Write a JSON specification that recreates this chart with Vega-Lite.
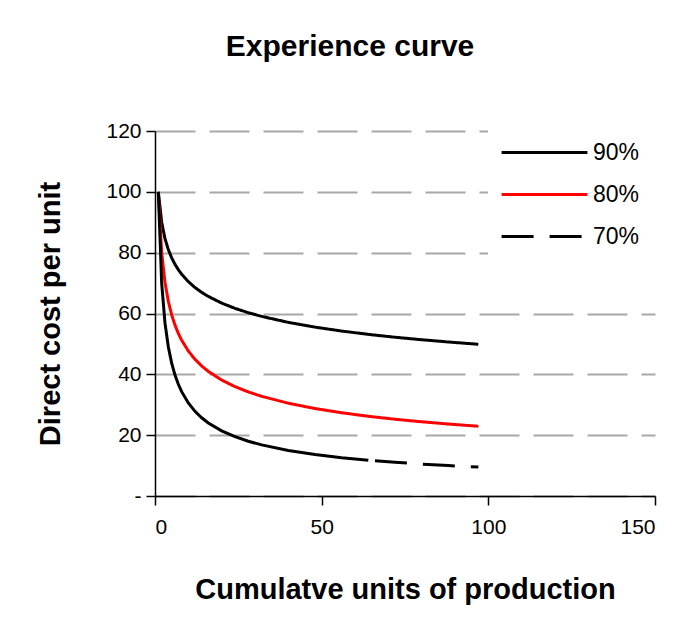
{
  "$schema": "https://vega.github.io/schema/vega-lite/v6.json",
  "width": 500,
  "height": 365,
  "autosize": {"type": "none"},
  "padding": {"left": 155, "top": 131, "right": 33, "bottom": 138},
  "background": "white",
  "title": {
    "text": "Experience curve",
    "font": "Liberation Sans",
    "fontSize": 30,
    "fontWeight": "bold",
    "color": "black",
    "anchor": "middle",
    "dx": -55,
    "offset": 34
  },
  "config": {
    "view": {"stroke": null},
    "font": "Liberation Sans",
    "axis": {
      "domainColor": "black",
      "domainWidth": 1.5,
      "tickColor": "black",
      "tickWidth": 1.5,
      "tickSize": 9,
      "labelFont": "Liberation Sans",
      "labelFontSize": 21,
      "labelColor": "black",
      "titleFont": "Liberation Sans",
      "titleFontSize": 29,
      "titleFontWeight": "bold",
      "titleColor": "black"
    }
  },
  "data": {
    "values": [
      {"n": 1, "series": "90%", "cost": 100},
      {"n": 2, "series": "90%", "cost": 90},
      {"n": 3, "series": "90%", "cost": 84.62},
      {"n": 4, "series": "90%", "cost": 81},
      {"n": 5, "series": "90%", "cost": 78.3},
      {"n": 6, "series": "90%", "cost": 76.16},
      {"n": 7, "series": "90%", "cost": 74.39},
      {"n": 8, "series": "90%", "cost": 72.9},
      {"n": 10, "series": "90%", "cost": 70.47},
      {"n": 12, "series": "90%", "cost": 68.54},
      {"n": 14, "series": "90%", "cost": 66.96},
      {"n": 16, "series": "90%", "cost": 65.61},
      {"n": 20, "series": "90%", "cost": 63.42},
      {"n": 24, "series": "90%", "cost": 61.69},
      {"n": 28, "series": "90%", "cost": 60.26},
      {"n": 32, "series": "90%", "cost": 59.05},
      {"n": 40, "series": "90%", "cost": 57.08},
      {"n": 48, "series": "90%", "cost": 55.52},
      {"n": 56, "series": "90%", "cost": 54.23},
      {"n": 64, "series": "90%", "cost": 53.14},
      {"n": 66, "series": "90%", "cost": 52.9},
      {"n": 72, "series": "90%", "cost": 52.2},
      {"n": 80, "series": "90%", "cost": 51.37},
      {"n": 88, "series": "90%", "cost": 50.63},
      {"n": 97, "series": "90%", "cost": 49.89},
      {"n": 1, "series": "80%", "cost": 100},
      {"n": 2, "series": "80%", "cost": 80},
      {"n": 3, "series": "80%", "cost": 70.21},
      {"n": 4, "series": "80%", "cost": 64},
      {"n": 5, "series": "80%", "cost": 59.56},
      {"n": 6, "series": "80%", "cost": 56.17},
      {"n": 7, "series": "80%", "cost": 53.45},
      {"n": 8, "series": "80%", "cost": 51.2},
      {"n": 10, "series": "80%", "cost": 47.65},
      {"n": 12, "series": "80%", "cost": 44.93},
      {"n": 14, "series": "80%", "cost": 42.76},
      {"n": 16, "series": "80%", "cost": 40.96},
      {"n": 20, "series": "80%", "cost": 38.12},
      {"n": 24, "series": "80%", "cost": 35.95},
      {"n": 28, "series": "80%", "cost": 34.21},
      {"n": 32, "series": "80%", "cost": 32.77},
      {"n": 40, "series": "80%", "cost": 30.5},
      {"n": 48, "series": "80%", "cost": 28.76},
      {"n": 56, "series": "80%", "cost": 27.37},
      {"n": 64, "series": "80%", "cost": 26.21},
      {"n": 66, "series": "80%", "cost": 25.96},
      {"n": 72, "series": "80%", "cost": 25.24},
      {"n": 80, "series": "80%", "cost": 24.4},
      {"n": 88, "series": "80%", "cost": 23.66},
      {"n": 97, "series": "80%", "cost": 22.93},
      {"n": 1, "series": "70%", "cost": 100},
      {"n": 2, "series": "70%", "cost": 70},
      {"n": 3, "series": "70%", "cost": 56.82},
      {"n": 4, "series": "70%", "cost": 49},
      {"n": 5, "series": "70%", "cost": 43.68},
      {"n": 6, "series": "70%", "cost": 39.77},
      {"n": 7, "series": "70%", "cost": 36.74},
      {"n": 8, "series": "70%", "cost": 34.3},
      {"n": 10, "series": "70%", "cost": 30.58},
      {"n": 12, "series": "70%", "cost": 27.84},
      {"n": 14, "series": "70%", "cost": 25.72},
      {"n": 16, "series": "70%", "cost": 24.01},
      {"n": 20, "series": "70%", "cost": 21.41},
      {"n": 24, "series": "70%", "cost": 19.49},
      {"n": 28, "series": "70%", "cost": 18.0},
      {"n": 32, "series": "70%", "cost": 16.81},
      {"n": 40, "series": "70%", "cost": 14.99},
      {"n": 48, "series": "70%", "cost": 13.64},
      {"n": 56, "series": "70%", "cost": 12.6},
      {"n": 64, "series": "70%", "cost": 11.76},
      {"n": 66, "series": "70%", "cost": 11.58},
      {"n": 72, "series": "70%", "cost": 11.07},
      {"n": 80, "series": "70%", "cost": 10.49},
      {"n": 88, "series": "70%", "cost": 9.99},
      {"n": 97, "series": "70%", "cost": 9.5}
    ]
  },
  "encoding": {
    "x": {
      "field": "n",
      "type": "quantitative",
      "scale": {"domain": [0, 150], "nice": false, "zero": true},
      "axis": {
        "values": [0, 50, 100, 150],
        "grid": false,
        "labelPadding": 11,
        "title": "Cumulatve units of production",
        "titlePadding": 38
      }
    },
    "y": {
      "field": "cost",
      "type": "quantitative",
      "scale": {"domain": [0, 120], "nice": false},
      "axis": {
        "values": [0, 20, 40, 60, 80, 100, 120],
        "grid": true,
        "gridColor": "#a8a8a8",
        "gridWidth": 2,
        "gridDash": [40, 14],
        "labelExpr": "datum.value == 0 ? '-' : datum.label",
        "labelPadding": 5,
        "title": "Direct cost per unit",
        "titlePadding": 40
      }
    }
  },
  "layer": [
    {
      "transform": [{"filter": "datum.series != '70%' || datum.n >= 66"}],
      "mark": {"type": "line", "strokeWidth": 3, "strokeCap": "butt", "clip": false},
      "encoding": {
        "color": {
          "field": "series",
          "type": "nominal",
          "scale": {"domain": ["90%", "80%", "70%"], "range": ["black", "red", "black"]},
          "legend": {
            "orient": "none",
            "legendX": 333,
            "legendY": -35,
            "title": null,
            "fillColor": "white",
            "padding": 44,
            "symbolType": "M-3.9,0H3.9",
            "symbolSize": 484,
            "symbolStrokeWidth": 3,
            "labelFont": "Liberation Sans",
            "labelFontSize": 23,
            "labelColor": "black",
            "labelOffset": 36,
            "rowPadding": 17
          }
        },
        "strokeDash": {
          "field": "series",
          "type": "nominal",
          "scale": {"domain": ["90%", "80%", "70%"], "range": [[1, 0], [1, 0], [32, 16]]},
          "legend": {
            "orient": "none",
            "legendX": 333,
            "legendY": -35,
            "title": null,
            "fillColor": "white",
            "padding": 44,
            "symbolType": "M-3.9,0H3.9",
            "symbolSize": 484,
            "symbolStrokeWidth": 3,
            "labelFont": "Liberation Sans",
            "labelFontSize": 23,
            "labelColor": "black",
            "labelOffset": 36,
            "rowPadding": 17
          }
        }
      }
    },
    {
      "transform": [{"filter": "datum.series == '70%' && datum.n <= 64"}],
      "mark": {"type": "line", "strokeWidth": 3, "strokeCap": "butt", "color": "black"},
      "encoding": {}
    }
  ]
}
